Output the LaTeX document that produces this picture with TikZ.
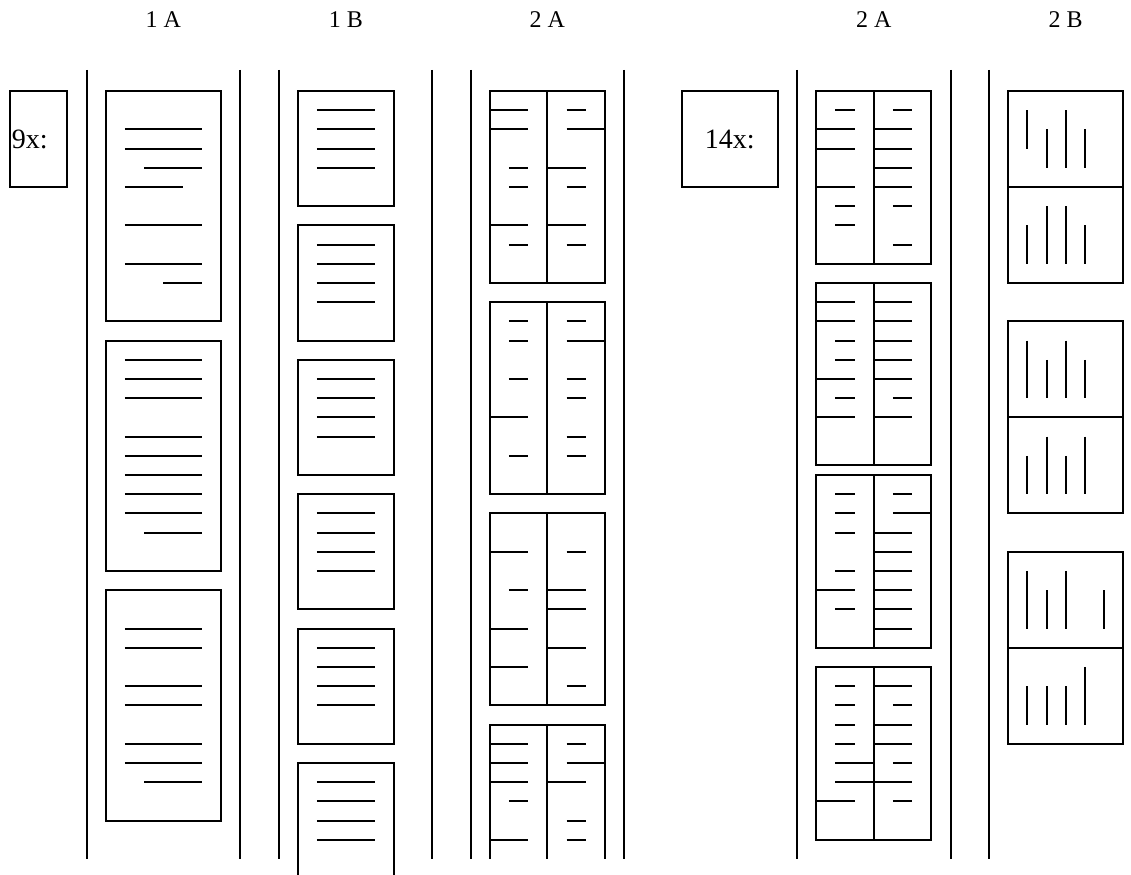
\documentclass[tikz,border=0pt]{standalone}
\usepackage{fontspec}
\setmainfont{Liberation Serif}
\begin{document}
\begin{tikzpicture}[x=19.2pt,y=-19.2pt,
  ln/.style={line width=2pt,line cap=butt},
  bx/.style={line width=2pt},
  lbl/.style={font=\fontsize{24}{28}\selectfont,inner sep=0pt},
  cnt/.style={font=\fontsize{28}{32}\selectfont,inner sep=0pt}]
\useasboundingbox (-4.51,-4.74) rectangle (54.40,40.83);
% top labels
\node[lbl] (l1a) at (4,-3.7) {1 A};
\node[lbl] (l1b) at (13.5,-3.7) {1 B};
\node[lbl] (l2a) at (24,-3.7) {2 A};
\node[lbl] (l2ab) at (41,-3.7) {2 A};
\node[lbl] (l2b) at (51,-3.7) {2 B};
% count boxes
\draw[bx] (-4,0) rectangle (-1,5);
\node[cnt,anchor=west] (c9) at (-3.9,2.5) {9x:};
\draw[bx] (31,0) rectangle (36,5);
\node[cnt] (c14) at (33.5,2.5) {14x:};
% separators
\foreach \x in {0,8,10,18,20,28,37,45,47} \draw[ln] (\x,-1.1) -- (\x,40);
% ---- 1A ----
\foreach \t in {0,13,26} \draw[bx] (1,\t) rectangle (7,\t+12);
\foreach \a/\b/\y in {2/6/2,2/6/3,3/6/4,2/5/5,2/6/7,2/6/9,4/6/10,
  2/6/14,2/6/15,2/6/16,2/6/18,2/6/19,2/6/20,2/6/21,2/6/22,3/6/23,
  2/6/28,2/6/29,2/6/31,2/6/32,2/6/34,2/6/35,3/6/36}
  \draw[ln] (\a,\y) -- (\b,\y);
% ---- 1B ----
\foreach \k in {0,...,4} {
  \draw[bx] (11,7*\k) rectangle (16,7*\k+6);
  \foreach \i in {1,...,4} \draw[ln] (12,7*\k+\i) -- (15,7*\k+\i);
}
\draw[bx] (11,41) -- (11,35) -- (16,35) -- (16,41);
\foreach \i in {36,...,39} \draw[ln] (12,\i) -- (15,\i);
% ---- 2A left ----
\foreach \t in {0,11,22} {
  \draw[bx] (21,\t) rectangle (27,\t+10);
  \draw[ln] (24,\t) -- (24,\t+10);
}
\draw[bx] (21,40) -- (21,33) -- (27,33) -- (27,40);
\draw[ln] (24,33) -- (24,40);
\foreach \a/\b/\y in {21/23/1,25/26/1,21/23/2,25/27/2,22/23/4,24/26/4,22/23/5,25/26/5,21/23/7,24/26/7,22/23/8,25/26/8,
  22/23/12,25/26/12,22/23/13,25/27/13,22/23/15,25/26/15,25/26/16,21/23/17,25/26/18,22/23/19,25/26/19,
  21/23/24,25/26/24,22/23/26,24/26/26,24/26/27,21/23/28,24/26/29,21/23/30,25/26/31,
  21/23/34,25/26/34,21/23/35,25/27/35,21/23/36,24/26/36,22/23/37,25/26/38,21/23/39,25/26/39}
  \draw[ln] (\a,\y) -- (\b,\y);
% ---- 2A right ----
\foreach \t/\h in {0/9,10/19.5,20/29,30/39} {
  \draw[bx] (38,\t) rectangle (44,\h);
  \draw[ln] (41,\t) -- (41,\h);
}
\foreach \a/\b/\y in {39/40/1,42/43/1,38/40/2,41/43/2,38/40/3,41/43/3,41/43/4,38/40/5,41/43/5,39/40/6,42/43/6,39/40/7,42/43/8,
  38/40/11,41/43/11,38/40/12,41/43/12,39/40/13,41/43/13,39/40/14,41/43/14,38/40/15,41/43/15,39/40/16,42/43/16,38/40/17,41/43/17,
  39/40/21,42/43/21,39/40/22,42/44/22,39/40/23,41/43/23,41/43/24,39/40/25,41/43/25,38/40/26,41/43/26,39/40/27,41/43/27,41/43/28,
  39/40/31,41/43/31,39/40/32,42/43/32,39/40/33,41/43/33,39/40/34,41/43/34,39/41/35,42/43/35,39/41/36,41/43/36,38/40/37,42/43/37}
  \draw[ln] (\a,\y) -- (\b,\y);
% ---- 2B ----
\foreach \t in {0,12,24} {
  \draw[bx] (48,\t) rectangle (54,\t+10);
  \draw[ln] (48,\t+5) -- (54,\t+5);
}
\foreach \x/\a/\b in {49/1/3,50/2/4,51/1/4,52/2/4,49/7/9,50/6/9,51/6/9,52/7/9,
  49/13/16,50/14/16,51/13/16,52/14/16,49/19/21,50/18/21,51/19/21,52/18/21,
  49/25/28,50/26/28,51/25/28,53/26/28,49/31/33,50/31/33,51/31/33,52/30/33}
  \draw[ln] (\x,\a) -- (\x,\b);
\end{tikzpicture}
\end{document}
